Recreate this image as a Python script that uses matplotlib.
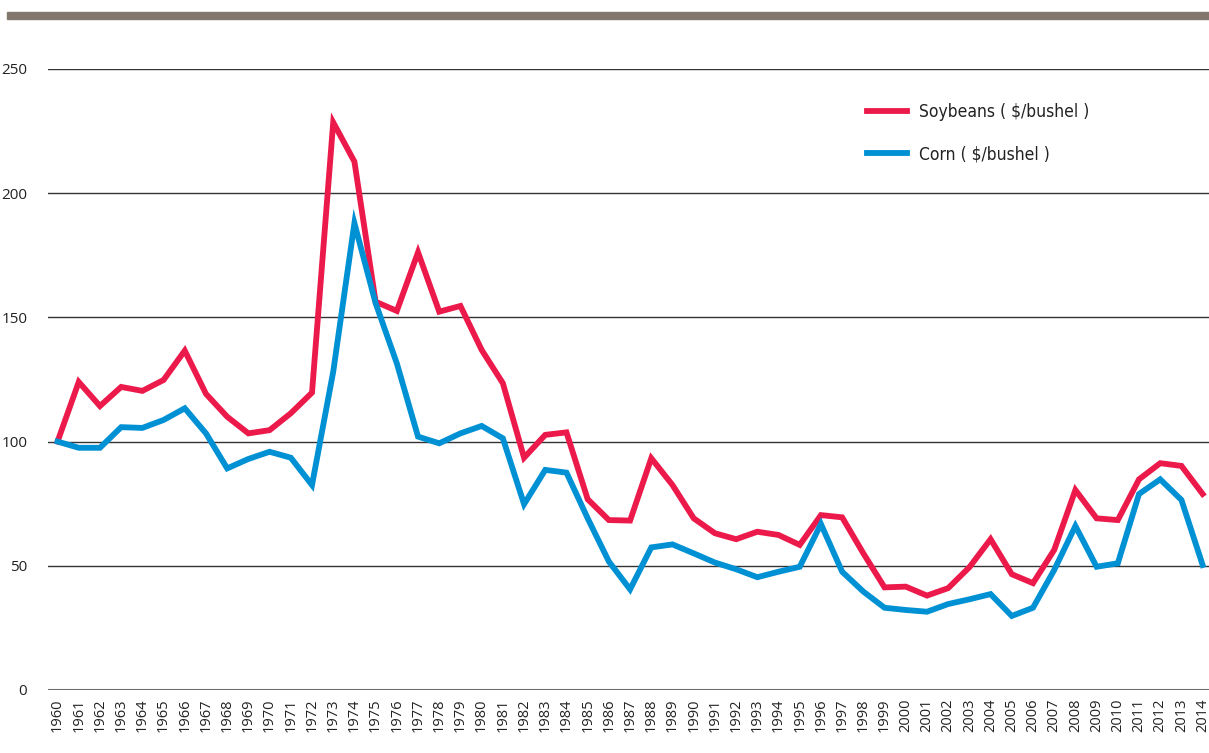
import matplotlib
matplotlib.use("Agg")
import matplotlib.pyplot as plt
from matplotlib.patches import Rectangle

## price index, 1960 = 100
years = list(range(1960, 2015))

soybeans = [100, 124, 114.3, 122, 120.4, 124.8, 136.6, 119.2, 110, 103.3,
            104.6, 111.4, 119.7, 228.5, 212.7, 156.3, 152.6, 176.2, 152.3, 154.6,
            136.9, 123.5, 93.5, 102.7, 103.7, 76.8, 68.4, 68.2, 93.3, 82.5,
            69.1, 63.1, 60.7, 63.7, 62.4, 58.4, 70.4, 69.5, 55, 41.3,
            41.6, 38, 41, 49.4, 60.7, 46.6, 43, 56.4, 80.5, 69.1,
            68.4, 84.8, 91.3, 90.2, 78.9]

corn = [100, 97.5, 97.5, 105.8, 105.5, 108.7, 113.4, 103.3, 89.2, 93,
        95.9, 93.5, 82.5, 128.1, 187.9, 155.7, 131.5, 102, 99.3, 103.3,
        106.3, 101.3, 74.8, 88.6, 87.5, 69.1, 51.7, 40.5, 57.4, 58.6,
        55, 51.3, 48.6, 45.4, 47.6, 49.6, 66.8, 47.6, 39.6, 33.1,
        32.2, 31.5, 34.6, 36.5, 38.6, 29.8, 33.1, 48.3, 66, 49.6,
        51, 78.9, 84.8, 76.5, 50.3]

yticks = [0, 50, 100, 150, 200, 250]

fig = plt.figure(figsize=(12.09, 7.53), dpi=100)
ax = fig.add_axes([0.0397, 0.0837, 0.9603, 0.8247])

# brown strip across the top
fig.patches.append(Rectangle((7 / 1209, 1 - 19 / 753), 1 - 7 / 1209, 7.5 / 753,
                             transform=fig.transFigure, color="#82776d", zorder=0))

for v in yticks[1:]:
    ax.axhline(v, color="#333333", lw=1.0, zorder=1)
ax.axhline(0, color="#6a6a6a", lw=2.2, zorder=1)

ax.plot(years, soybeans, color="#ec1a4b", lw=4.2, label="Soybeans ( $/bushel )",
        solid_joinstyle="miter", zorder=3)
ax.plot(years, corn, color="#0091d4", lw=4.2, label="Corn ( $/bushel )",
        solid_joinstyle="miter", zorder=3)

ax.set_xlim(1959.55, 2014.3)
ax.set_ylim(0, 250)
ax.set_xticks(years)
ax.set_xticklabels([str(y) for y in years], rotation=90, fontsize=10.5,
                   family="Open Sans", color="#222222")
ax.set_yticks(yticks)
ax.set_yticklabels([str(v) for v in yticks], fontsize=11, family="Open Sans",
                   color="#222222")
ax.tick_params(axis="both", length=0)
ax.tick_params(axis="x", pad=6)
ax.tick_params(axis="y", pad=15)
for s in ax.spines.values():
    s.set_visible(False)

leg = ax.legend(loc="upper left", bbox_to_anchor=(0.692, 0.97), frameon=False,
                handlelength=2.3, handletextpad=0.7, labelspacing=1.4,
                prop={"family": "DejaVu Sans", "stretch": "condensed", "size": 12.5})
for t in leg.get_texts():
    t.set_color("#222222")

fig.savefig("out.png", dpi=100)
